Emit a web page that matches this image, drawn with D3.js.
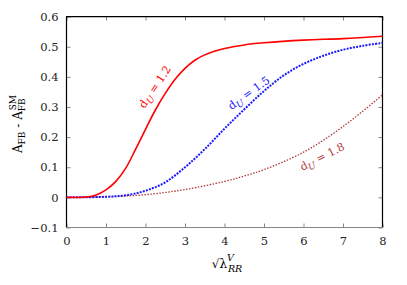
<!DOCTYPE html>
<html lang="en">
<head>
<meta charset="utf-8">
<title>AFB chart</title>
<script src="https://d3js.org/d3.v7.min.js"></script>
<style>
body { margin: 0; background: #fff; }
</style>
</head>
<body>
<script>
// data
var xTicks = [0, 1, 2, 3, 4, 5, 6, 7, 8];
var yTicks = [-0.1, 0, 0.1, 0.2, 0.3, 0.4, 0.5, 0.6];

var redX  = [0, 0.5, 0.75, 1, 1.25, 1.5, 1.75, 2, 2.25, 2.5, 2.75, 3, 3.25, 3.5, 4, 4.5, 5, 6, 7, 8];
var redY  = [0, 0.001, 0.008, 0.025, 0.053, 0.097, 0.16, 0.226, 0.29, 0.345, 0.392, 0.428, 0.455, 0.473, 0.494, 0.506, 0.513, 0.522, 0.527, 0.535];
var blueX = [0, 1, 1.5, 2, 2.5, 3, 3.5, 4, 4.5, 5, 5.5, 6, 6.5, 7, 7.5, 8];
var blueY = [0, 0.002, 0.007, 0.022, 0.05, 0.1, 0.16, 0.228, 0.292, 0.353, 0.405, 0.443, 0.47, 0.49, 0.503, 0.513];
var darkX = [0, 1, 2, 3, 4, 4.5, 5, 6, 7, 8];
var darkY = [0, 0.002, 0.009, 0.026, 0.053, 0.071, 0.092, 0.15, 0.235, 0.34];

var W = 407, H = 285;
var pL = 66.5, pR = 382.5, pT = 16.6, pB = 227.5;
var serif = "'DejaVu Serif'";

var svg = d3.select("body").append("svg").attr("width", W).attr("height", H);

var x = d3.scaleLinear().domain([0, 8]).range([pL, pR]);
var y = d3.scaleLinear().domain([-0.1, 0.6]).range([pB, pT]);

// ticks (inward, mirrored)
var tk = 4;
svg.append("g").attr("transform", "translate(0," + pB + ")")
    .call(d3.axisBottom(x).tickValues(xTicks).tickSizeInner(-tk).tickSizeOuter(0).tickPadding(9))
    .call(g => g.select(".domain").remove());
svg.append("g").attr("transform", "translate(0," + pT + ")")
    .call(d3.axisTop(x).tickValues(xTicks).tickSizeInner(-tk).tickSizeOuter(0).tickFormat(""))
    .call(g => g.select(".domain").remove());
svg.append("g").attr("transform", "translate(" + pL + ",0)")
    .call(d3.axisLeft(y).tickValues(yTicks).tickSizeInner(-tk).tickSizeOuter(0).tickPadding(8)
        .tickFormat(d => d3.format("")(+d.toFixed(1))))
    .call(g => g.select(".domain").remove());
svg.append("g").attr("transform", "translate(" + pR + ",0)")
    .call(d3.axisRight(y).tickValues(yTicks).tickSizeInner(-tk).tickSizeOuter(0).tickFormat(""))
    .call(g => g.select(".domain").remove());

svg.selectAll(".tick line").attr("stroke", "#888").attr("stroke-width", 1);
svg.selectAll(".tick text").attr("font-size", 11.5).attr("fill", "#222")
    .style("font-family", serif);

// border
svg.append("path")
    .attr("d", "M" + pL + "," + pB + "V" + pT + "H" + pR + "V" + pB)
    .attr("fill", "none").attr("stroke", "#000").attr("stroke-width", 1.2);
svg.append("line").attr("x1", pL).attr("x2", pR).attr("y1", pB).attr("y2", pB)
    .attr("stroke", "#888").attr("stroke-width", 1.2);

var line = d3.line().x(d => x(d[0])).y(d => y(d[1])).curve(d3.curveCatmullRom.alpha(0.5));

function series(xs, ys, color, width, dash) {
    svg.append("path")
        .datum(xs.map((v, i) => [v, ys[i]]))
        .attr("d", line)
        .attr("fill", "none")
        .attr("stroke", color)
        .attr("stroke-width", width)
        .attr("stroke-dasharray", dash);
}
series(darkX, darkY, "#b03a3a", 1.3, "1.5,1.5");
series(blueX, blueY, "#1a1aff", 2, "2,1.2");
series(redX, redY, "#ff0000", 1.6, null);

// curve labels
function curveLabel(cx, cy, angle, color, val) {
    var t = svg.append("text")
        .attr("transform", "translate(" + cx + "," + cy + ") rotate(" + angle + ")")
        .attr("text-anchor", "middle").attr("font-size", 11).attr("fill", color)
        .style("font-family", serif);
    t.append("tspan").text("d");
    t.append("tspan").attr("font-style", "italic").attr("font-size", 9).attr("dy", 3).text("U");
    t.append("tspan").attr("dy", -3).text(" = " + val);
}
curveLabel(158, 89, -56, "#ff0000", "1.2");
curveLabel(251, 96, -36, "#1a1aff", "1.5");
curveLabel(324, 160, -27, "#b03a3a", "1.8");

// axis labels
var yl = svg.append("text")
    .attr("transform", "translate(22,124) rotate(-90)")
    .attr("text-anchor", "middle").attr("font-size", 12).attr("fill", "#000")
    .style("font-family", serif);
yl.append("tspan").text("A");
yl.append("tspan").attr("font-size", 9).attr("dy", 3).text("FB");
yl.append("tspan").attr("dy", -3).text(" - A");
yl.append("tspan").attr("font-size", 9).attr("dy", 3).text("FB");
yl.append("tspan").attr("font-size", 9).attr("dx", -12).attr("dy", -9).text("SM");

var xl = svg.append("text")
    .attr("transform", "translate(227,268)")
    .attr("text-anchor", "middle").attr("font-size", 12).attr("fill", "#000")
    .style("font-family", serif);
xl.append("tspan").text("\u221A\u03BB");
xl.append("tspan").attr("font-style", "italic").attr("font-size", 9.5).attr("dy", -7).text("V");
xl.append("tspan").attr("font-style", "italic").attr("font-size", 9.5).attr("dx", -6).attr("dy", 11).text("RR");
</script>
</body>
</html>
